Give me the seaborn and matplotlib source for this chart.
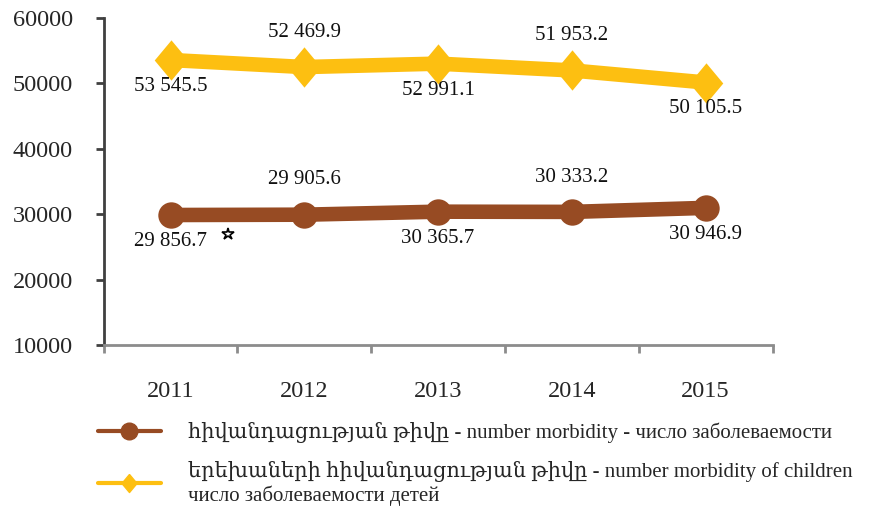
import pandas as pd
import seaborn as sns
import matplotlib.pyplot as plt
from matplotlib.lines import Line2D

years = ['2011', '2012', '2013', '2014', '2015']
morbidity = [29856.7, 29905.6, 30365.7, 30333.2, 30946.9]
children = [53545.5, 52469.9, 52991.1, 51953.2, 50105.5]
yticks = [10000, 20000, 30000, 40000, 50000, 60000]
label_morbidity = 'հիվանդացության թիվը - number morbidity - число заболеваемости'
label_children = ('երեխաների հիվանդացության թիվը - number morbidity of children\n'
                  'число заболеваемости детей')
# small star mark seen in the source image
star_x = [0.43]
star_y = [26950]

brown = '#974B23'
yellow = '#FDBF11'
diamond = [(0, 1.2), (1, 0), (0, -1.2), (-1, 0), (0, 1.2)]

df = pd.DataFrame({'year': years, 'morbidity': morbidity, 'children': children})
df['pos'] = range(len(years))

sns.set_style('white')
plt.rcParams['font.family'] = ['Liberation Serif', 'DejaVu Serif']

fig = plt.figure(figsize=(8.71, 5.08), dpi=100)
ax = fig.add_axes([0.119, 0.321, 0.768, 0.644])

sns.lineplot(data=df, x='pos', y='children', color=yellow, linewidth=10.5,
             marker=diamond, markersize=29, markeredgewidth=0, ax=ax)
sns.lineplot(data=df, x='pos', y='morbidity', color=brown, linewidth=10.5,
             marker='o', markersize=19, markeredgewidth=0, ax=ax)

def fmt(v):
    s = f'{v:,.1f}'
    return s.replace(',', ' ')

for series, ups in [(children, [False, True, False, True, False]),
                    (morbidity, [False, True, False, True, False])]:
    for i, v in enumerate(series):
        dy = 25 if ups[i] else -19
        ax.annotate(fmt(v), (i, v), xytext=(0, dy), textcoords='offset points',
                    ha='center', va='center', fontsize=15, color='#111111')

ax.plot(star_x, star_y, marker='*', markersize=9, markerfacecolor='white',
        markeredgecolor='black', markeredgewidth=1.2, linestyle='none')

ax.set_xlim(-0.5, 4.5)
ax.set_ylim(10000, 60000)
ax.set_yticks(yticks)
ax.set_yticklabels([str(t) for t in yticks], fontsize=17.5)
ax.set_xticks(range(len(years)))
ax.set_xticklabels(years, fontsize=17.5)
ax.set_xticks([-0.5, 0.5, 1.5, 2.5, 3.5, 4.5], minor=True)
ax.tick_params(axis='x', which='major', bottom=True, length=0, pad=26)
ax.tick_params(axis='x', which='minor', bottom=True, length=6, width=2,
               color='#8c8c8c', direction='out')
ax.tick_params(axis='y', left=True, length=6, width=2, color='#404040',
               direction='out', pad=16)
ax.set_xlabel('')
ax.set_ylabel('')
sns.despine(ax=ax, top=True, right=True)
ax.spines['left'].set_color('#404040')
ax.spines['left'].set_linewidth(2)
ax.spines['bottom'].set_color('#8c8c8c')
ax.spines['bottom'].set_linewidth(2)

handles = [
    Line2D([], [], color=brown, linewidth=3, marker='o', markersize=12),
    Line2D([], [], color=yellow, linewidth=3, marker=diamond, markersize=13),
]
fig.legend(handles, [label_morbidity, label_children], loc='lower left',
           bbox_to_anchor=(0.103, -0.012), frameon=False, fontsize=15,
           handlelength=3.0, handletextpad=1.3, labelspacing=0.85,
           borderaxespad=0.0)

fig.savefig('out.png', dpi=100)
